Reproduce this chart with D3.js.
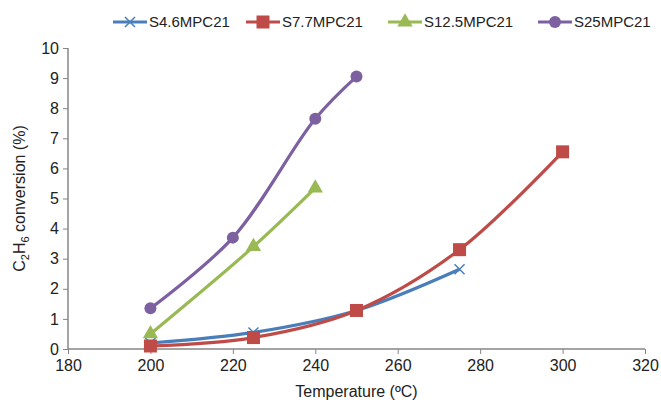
<!DOCTYPE html>
<html>
<head>
<meta charset="utf-8">
<script src="https://cdn.jsdelivr.net/npm/d3@7"></script>
<style>
  body { margin: 0; background: #fff; }
  #vis { width: 661px; height: 403px; }
  text { font-family: "Liberation Sans", Arial, sans-serif; fill: #222; }
</style>
</head>
<body>
<div id="vis"></div>
<script>
// data
var temps_46 = [200, 225, 250, 275];
var conv_46 = [0.2, 0.55, 1.28, 2.65];
var temps_77 = [200, 225, 250, 275, 300];
var conv_77 = [0.1, 0.38, 1.28, 3.3, 6.55];
var temps_125 = [200, 225, 240];
var conv_125 = [0.5, 3.4, 5.35];
var temps_25 = [200, 220, 240, 250];
var conv_25 = [1.35, 3.7, 7.65, 9.05];

var series_names = ['S4.6MPC21', 'S7.7MPC21', 'S12.5MPC21', 'S25MPC21'];
var series_colours = ['#4a7ebb', '#be4b48', '#98b954', '#7d60a0'];
var series_markers = ['cross', 'square', 'triangle', 'circle'];
var x_ticks = [180, 200, 220, 240, 260, 280, 300, 320];
var y_ticks = [0, 1, 2, 3, 4, 5, 6, 7, 8, 9, 10];

var width = 661, height = 403;
var margin = { top: 48, bottom: 54, left: 68, right: 16 };

var svg = d3.select('#vis')
    .append('svg')
    .attr('width', width)
    .attr('height', height);

var inner_w = width - margin.left - margin.right;
var inner_h = height - margin.top - margin.bottom;

var g = svg.append('g')
    .attr('transform', 'translate(' + margin.left + ',' + margin.top + ')');

var x_scale = d3.scaleLinear().domain([180, 320]).range([0, inner_w]);
var y_scale = d3.scaleLinear().domain([0, 10]).range([inner_h, 0]);

var x_axis = d3.axisBottom(x_scale).tickValues(x_ticks).tickSize(5).tickPadding(6);
var y_axis = d3.axisLeft(y_scale).tickValues(y_ticks).tickSize(5).tickPadding(4);

var gx = g.append('g')
    .attr('transform', 'translate(0,' + inner_h + ')')
    .call(x_axis);
var gy = g.append('g').call(y_axis);

[gx, gy].forEach(function(a) {
    a.select('.domain').attr('stroke', '#868686').attr('stroke-width', 1.5);
    a.selectAll('.tick line').attr('stroke', '#868686');
    a.selectAll('.tick text')
        .style('font-size', '16px')
        .style('font-family', '"Liberation Sans", Arial, sans-serif')
        .attr('fill', '#222');
});
gy.select('.domain').attr('d', 'M0,' + inner_h + 'V0');
gx.select('.domain').attr('d', 'M0,0H' + inner_w);

// series
var all_series = [
    { xs: temps_46, ys: conv_46 },
    { xs: temps_77, ys: conv_77 },
    { xs: temps_125, ys: conv_125 },
    { xs: temps_25, ys: conv_25 }
];

var line = d3.line()
    .x(function(d) { return x_scale(d[0]); })
    .y(function(d) { return y_scale(d[1]); })
    .curve(d3.curveCatmullRom.alpha(0.5));

function draw_marker(sel, type, colour, size) {
    if (type === 'cross') {
        var s = size / 2;
        sel.append('path')
            .attr('d', 'M' + -s + ',' + -s + 'L' + s + ',' + s + 'M' + -s + ',' + s + 'L' + s + ',' + -s)
            .attr('stroke', colour).attr('stroke-width', 1.5).attr('fill', 'none');
    } else if (type === 'square') {
        sel.append('rect')
            .attr('x', -size / 2).attr('y', -size / 2)
            .attr('width', size).attr('height', size)
            .attr('fill', colour);
    } else if (type === 'triangle') {
        sel.append('path')
            .attr('d', d3.symbol().type(d3.symbolTriangle).size(size * size * 0.6)())
            .attr('fill', colour);
    } else {
        sel.append('circle').attr('r', size / 2).attr('fill', colour);
    }
}

all_series.forEach(function(s, i) {
    var pts = s.xs.map(function(x, j) { return [x, s.ys[j]]; });
    g.append('path')
        .datum(pts)
        .attr('d', line)
        .attr('fill', 'none')
        .attr('stroke', series_colours[i])
        .attr('stroke-width', 3.2)
        .attr('stroke-linejoin', 'round');
    var size = series_markers[i] === 'cross' ? 10 : (series_markers[i] === 'circle' ? 12 : 13);
    g.selectAll('.m' + i)
        .data(pts)
        .enter()
        .append('g')
        .attr('class', 'm' + i)
        .attr('transform', function(d) {
            return 'translate(' + x_scale(d[0]) + ',' + y_scale(d[1]) + ')';
        })
        .each(function() { draw_marker(d3.select(this), series_markers[i], series_colours[i], size); });
});

// legend
var legend_x = [113, 246, 388, 538];
var legend_y = 22;
series_names.forEach(function(name, i) {
    var lg = svg.append('g').attr('transform', 'translate(' + legend_x[i] + ',' + legend_y + ')');
    lg.append('line')
        .attr('x1', 0).attr('x2', 34).attr('y1', 0).attr('y2', 0)
        .attr('stroke', series_colours[i]).attr('stroke-width', 3.2);
    var m = lg.append('g').attr('transform', 'translate(17,0)');
    var size = series_markers[i] === 'cross' ? 10 : (series_markers[i] === 'circle' ? 12 : 13);
    draw_marker(m, series_markers[i], series_colours[i], size);
    lg.append('text')
        .attr('x', 36).attr('y', 0).attr('dy', '0.35em')
        .style('font-size', '15px')
        .text(name);
});

// axis labels
svg.append('text')
    .attr('x', margin.left + inner_w / 2)
    .attr('y', 397)
    .style('text-anchor', 'middle')
    .style('font-size', '16px')
    .text('Temperature (ºC)');

var ylab = svg.append('text')
    .attr('transform', 'translate(25,' + (margin.top + inner_h / 2) + ') rotate(-90)')
    .style('text-anchor', 'middle')
    .style('font-size', '16px');
ylab.append('tspan').text('C');
ylab.append('tspan').attr('dy', 4).style('font-size', '11px').text('2');
ylab.append('tspan').attr('dy', -4).text('H');
ylab.append('tspan').attr('dy', 4).style('font-size', '11px').text('6');
ylab.append('tspan').attr('dy', -4).text(' conversion (%)');
</script>
</body>
</html>
